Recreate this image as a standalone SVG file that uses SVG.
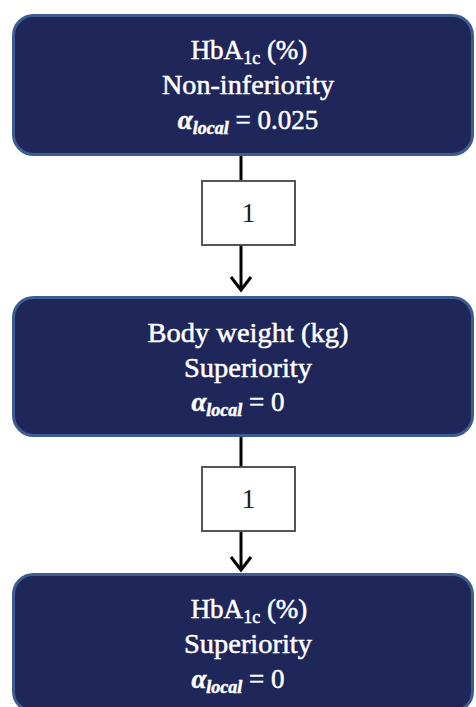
<svg xmlns="http://www.w3.org/2000/svg" width="476" height="707" viewBox="0 0 476 707">
  <style>
    .node { fill: #1f2659; stroke: #3d5d90; stroke-width: 3; }
    .t { font-family: "Liberation Serif", "Times New Roman", serif; font-size: 27px; fill: #ffffff; stroke: #ffffff; stroke-width: 0.5; text-anchor: middle; }
    .m { font-style: italic; font-weight: bold; }
    .sub { font-size: 18px; }
    .edge { stroke: #000000; stroke-width: 3; fill: none; }
    .lbl { fill: #ffffff; stroke: #555555; stroke-width: 2; }
    .lt { font-family: "Liberation Serif", "Times New Roman", serif; font-size: 27px; fill: #1a1a1a; text-anchor: middle; }
  </style>
  <defs>
    <marker id="arrow" markerUnits="userSpaceOnUse" markerWidth="30" markerHeight="30" refX="0" refY="0" viewBox="-16 -15 20 30" orient="auto" overflow="visible">
      <path d="M -13 -10 L 0 0 L -13 10" fill="none" stroke="#000000" stroke-width="3"/>
    </marker>
  </defs>
  <rect width="476" height="707" fill="#ffffff"/>

  <!-- connectors with their weight labels -->
  <g id="connectors">
    <line class="edge" x1="241" y1="155" x2="241" y2="180"/>
    <line class="edge" x1="241" y1="245" x2="241" y2="290" marker-end="url(#arrow)"/>
    <rect class="lbl" x="202" y="181" width="93" height="64"/>
    <text class="lt" x="248.5" y="222">1</text>

    <line class="edge" x1="241" y1="436" x2="241" y2="466"/>
    <line class="edge" x1="241" y1="531" x2="241" y2="570" marker-end="url(#arrow)"/>
    <rect class="lbl" x="202" y="467" width="93" height="64"/>
    <text class="lt" x="248.5" y="508">1</text>
  </g>

  <g id="node-hba1c-noninferiority">
    <rect class="node" x="13.5" y="15.5" width="459" height="139" rx="20"/>
    <text class="t" x="249" y="59">HbA<tspan class="sub" dy="5">1c</tspan><tspan dy="-5"> (%)</tspan></text>
    <text class="t" x="248" y="94" textLength="172" lengthAdjust="spacingAndGlyphs">Non-inferiority</text>
    <text class="t" x="248" y="129"><tspan class="m">α</tspan><tspan class="m sub" dy="5">local</tspan><tspan dy="-5"> = 0.025</tspan></text>
  </g>

  <g id="node-bodyweight-superiority">
    <rect class="node" x="13.5" y="297.5" width="459" height="138" rx="20"/>
    <text class="t" x="248" y="342" textLength="201" lengthAdjust="spacingAndGlyphs">Body weight (kg)</text>
    <text class="t" x="248" y="377" textLength="128" lengthAdjust="spacingAndGlyphs">Superiority</text>
    <text class="t" x="238" y="411"><tspan class="m">α</tspan><tspan class="m sub" dy="5">local</tspan><tspan dy="-5"> = 0</tspan></text>
  </g>

  <g id="node-hba1c-superiority">
    <rect class="node" x="13.5" y="574.5" width="459" height="137" rx="20"/>
    <text class="t" x="249" y="618">HbA<tspan class="sub" dy="5">1c</tspan><tspan dy="-5"> (%)</tspan></text>
    <text class="t" x="248" y="653" textLength="128" lengthAdjust="spacingAndGlyphs">Superiority</text>
    <text class="t" x="238" y="688"><tspan class="m">α</tspan><tspan class="m sub" dy="5">local</tspan><tspan dy="-5"> = 0</tspan></text>
  </g>
</svg>
